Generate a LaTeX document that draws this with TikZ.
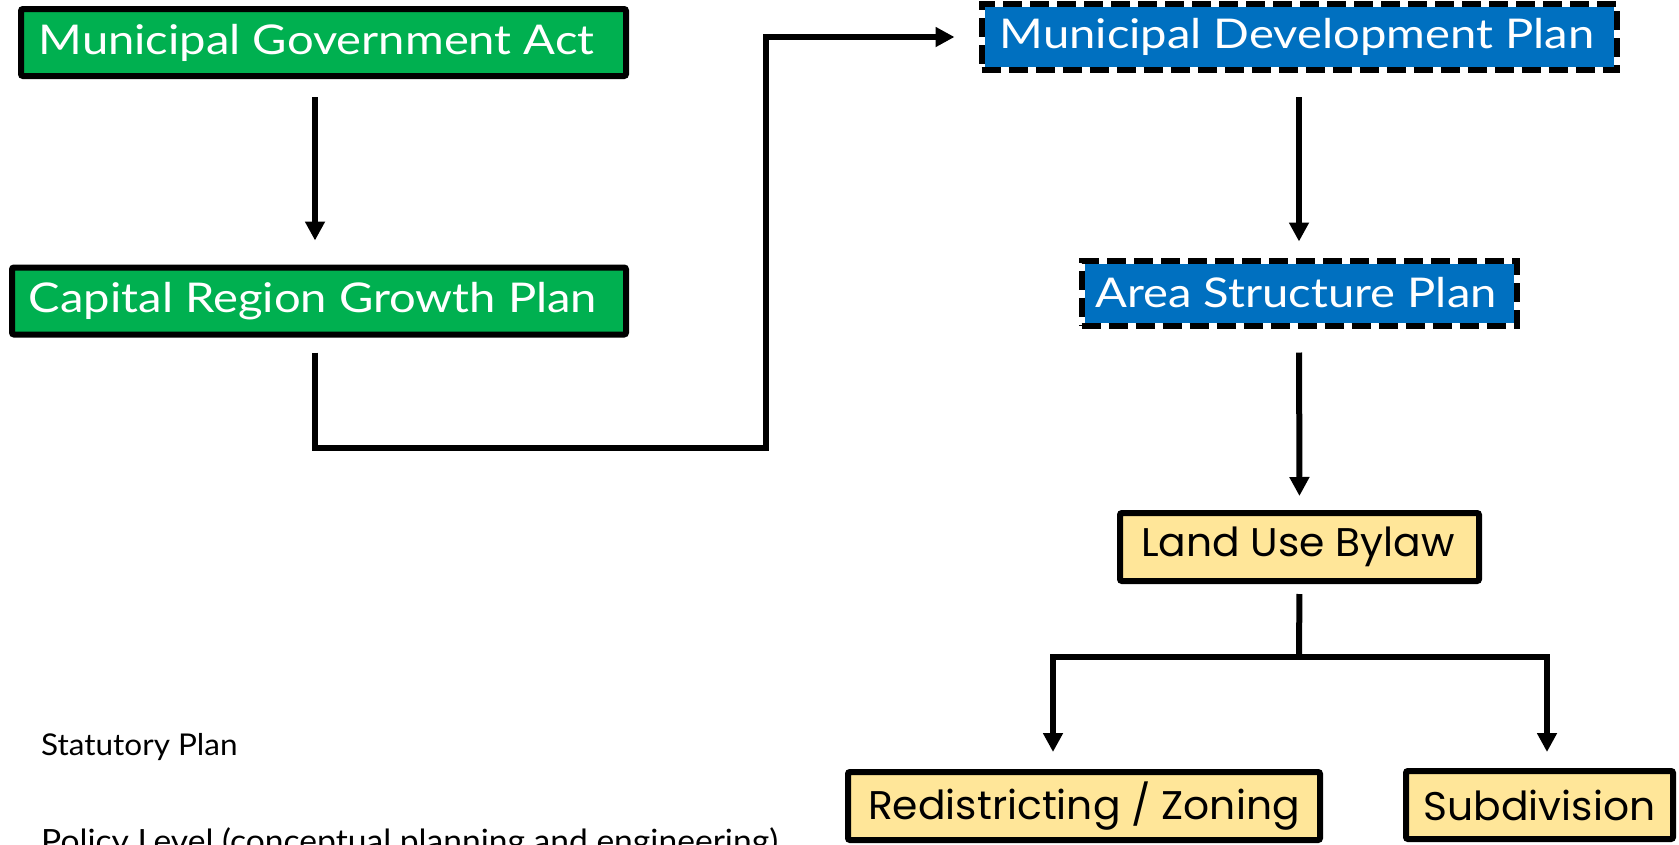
\documentclass[tikz,border=0pt]{standalone}
\usepackage{fontspec}
\usepackage{xcolor}
\usepackage{tikz}
\usetikzlibrary{arrows.meta}
\usetikzlibrary{positioning}
\setmainfont[FakeStretch=1.15]{Lato}
\newfontfamily\gelbschrift[FakeStretch=1.02]{Poppins}
\newfontfamily\schmal[FakeStretch=1.05]{Lato}
\definecolor{gruen}{HTML}{00B050}
\definecolor{blau}{HTML}{0070C0}
\definecolor{gelb}{HTML}{FFE699}
\tikzset{
  Kasten/.style={rectangle, inner sep=0pt, line width=6pt, rounded corners=2pt}, % Grundform
  GruenKasten/.style={Kasten, draw=black, fill=gruen, text=white, font=\fontsize{41}{45}\selectfont},
  BlauKasten/.style={Kasten, rounded corners=0pt, draw=white, fill=blau, text=white,
    font=\fontsize{41}{45}\selectfont,
    postaction={draw=black, line width=6pt, dash pattern=on 19pt off 8pt}}, % gestrichelter Rand
  GelbKasten/.style={Kasten, draw=black, fill=gelb, text=black, font=\gelbschrift\fontsize{40}{44}\selectfont},
  Pfeil/.style={line width=6pt, ->}, % für Pfeile
  Legende/.style={anchor=base west, inner sep=0pt, font=\schmal\fontsize{30}{34}\selectfont}
}

\begin{document}
\begin{tikzpicture}[x=1pt, y=-1pt,
>={Triangle[length=19pt, width=19pt]} % Voreinstellung für Pfeilspitzen
]
\useasboundingbox (0,0) rectangle (1679,844);

%Kästen
\node[GruenKasten, minimum width=605pt, minimum height=67pt] (MGA) at (323.5,42.5) {Municipal Government Act\kern14pt};
\node[GruenKasten, minimum width=614pt, minimum height=67pt] (CRGP) at (319,301) {Capital Region Growth Plan\kern12pt};

\node[BlauKasten, minimum width=635pt, minimum height=66pt] (MDP) at (1299,37) {Municipal Development Plan\kern4pt};
\node[BlauKasten, minimum width=435pt, minimum height=65pt] (ASP) at (1299,293) {Area Structure Plan\kern6pt};

\node[GelbKasten, minimum width=359pt, minimum height=68pt] (LUB) at (1299.5,547) {Land Use Bylaw\kern3pt};
\node[GelbKasten, minimum width=472pt, minimum height=68pt] (RZ) at (1084,806) {Redistricting / Zoning};
\node[GelbKasten, minimum width=267pt, minimum height=68pt] (SUB) at (1539.5,805) {Subdivision};

%Legende
\node[Legende] (SP) at (41,755) {Statutory Plan};
\node[Legende, font=\schmal\fontsize{32}{36}\selectfont] (PL) at (41,852) {Policy Level (conceptual planning and engineering)};

%Hilfspunkte
\coordinate (Knick) at (766,448);
\coordinate (Verzweigung) at (1299,657);

%Pfeile
\draw[Pfeil, shorten <=18pt, shorten >=24pt] ([xshift=-8.5pt]MGA.south) -- ([xshift=-8.5pt]MGA.south |- CRGP.north);
\draw[Pfeil, shorten <=15pt, shorten >=24pt] ([xshift=-4pt]CRGP.south) |- (Knick) |- (MDP.west);

\draw[Pfeil, shorten <=24pt, shorten >=16pt] (MDP.south) -- (ASP.north);
\draw[Pfeil, shorten <=24pt, shorten >=14pt] (ASP.south) -- (LUB.north);

\draw[line width=6pt, shorten <=10pt] (LUB.south) -- (Verzweigung);
\draw[Pfeil, shorten >=17pt] (Verzweigung) -| ([xshift=-31pt]RZ.north);
\draw[Pfeil, shorten >=16pt] (Verzweigung) -| ([xshift=7.5pt]SUB.north);

\end{tikzpicture}
\end{document}
